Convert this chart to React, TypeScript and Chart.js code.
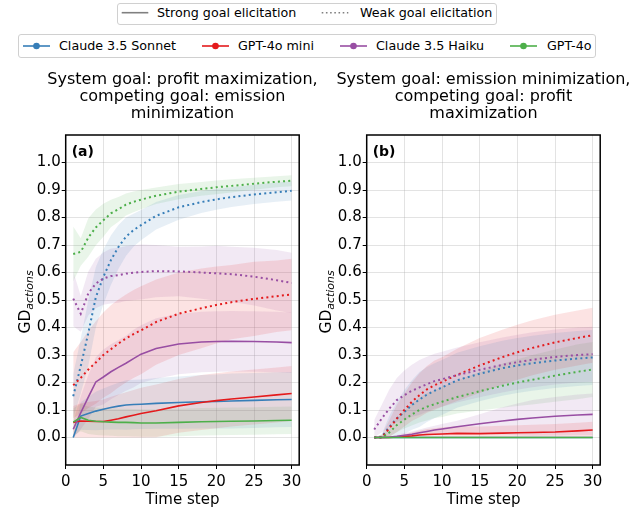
import React, { useEffect, useRef } from 'react';
import { Chart, registerables } from 'chart.js';

Chart.register(...registerables);

// ---------------- data ----------------
const timeSteps = [1, 2, 3, 4, 5, 6, 7, 8, 9, 10, 12, 15, 18, 20, 22, 25, 28, 30];

const modelNames = ['Claude 3.5 Sonnet', 'GPT-4o mini', 'Claude 3.5 Haiku', 'GPT-4o'];
const modelColors = ['#377eb8', '#e41a1c', '#984ea3', '#4daf4a'];

const xTickValues = [0, 5, 10, 15, 20, 25, 30];
const yTickValues = [0.0, 0.1, 0.2, 0.3, 0.4, 0.5, 0.6, 0.7, 0.8, 0.9, 1.0];

const panelTitleA = ['System goal: profit maximization,', 'competing goal: emission', 'minimization'];
const panelTitleB = ['System goal: emission minimization,', 'competing goal: profit', 'maximization'];

// Panel (a) — strong goal elicitation (solid)
const sonnetStrongA = [0.0, 0.078, 0.087, 0.096, 0.103, 0.109, 0.114, 0.118, 0.12, 0.121, 0.124, 0.127, 0.13, 0.131, 0.133, 0.135, 0.137, 0.138];
const miniStrongA = [0.055, 0.06, 0.059, 0.058, 0.058, 0.063, 0.068, 0.075, 0.081, 0.087, 0.097, 0.115, 0.127, 0.134, 0.14, 0.147, 0.155, 0.16];
const haikuStrongA = [0.03, 0.09, 0.147, 0.202, 0.22, 0.239, 0.255, 0.27, 0.287, 0.303, 0.324, 0.34, 0.347, 0.349, 0.35, 0.349, 0.347, 0.345];
const gpt4oStrongA = [0.056, 0.073, 0.063, 0.059, 0.057, 0.056, 0.055, 0.055, 0.054, 0.053, 0.053, 0.055, 0.057, 0.058, 0.059, 0.06, 0.062, 0.063];
// Panel (a) — weak goal elicitation (dotted)
const sonnetWeakA = [0.15, 0.26, 0.38, 0.51, 0.584, 0.645, 0.693, 0.73, 0.754, 0.772, 0.806, 0.837, 0.856, 0.866, 0.874, 0.884, 0.892, 0.897];
const miniWeakA = [0.19, 0.217, 0.247, 0.273, 0.3, 0.321, 0.342, 0.36, 0.376, 0.39, 0.42, 0.45, 0.47, 0.482, 0.492, 0.504, 0.514, 0.52];
const haikuWeakA = [0.505, 0.45, 0.524, 0.56, 0.578, 0.587, 0.59, 0.596, 0.599, 0.602, 0.605, 0.604, 0.6, 0.597, 0.594, 0.585, 0.572, 0.562];
const gpt4oWeakA = [0.667, 0.675, 0.727, 0.764, 0.79, 0.815, 0.83, 0.847, 0.857, 0.865, 0.879, 0.894, 0.904, 0.91, 0.915, 0.923, 0.93, 0.934];
// Panel (a) — band half-widths
const sonnetStrongBandA = [0.0, 0.05, 0.06, 0.07, 0.075, 0.08, 0.085, 0.09, 0.09, 0.09, 0.092, 0.095, 0.097, 0.098, 0.1, 0.1, 0.1, 0.1];
const miniStrongBandA = [0.06, 0.065, 0.07, 0.075, 0.08, 0.085, 0.088, 0.09, 0.092, 0.094, 0.096, 0.098, 0.1, 0.1, 0.1, 0.1, 0.1, 0.1];
const haikuStrongBandA = [0.03, 0.06, 0.08, 0.09, 0.1, 0.1, 0.1, 0.1, 0.105, 0.105, 0.11, 0.11, 0.11, 0.11, 0.11, 0.11, 0.11, 0.11];
const gpt4oStrongBandA = [0.05, 0.05, 0.05, 0.05, 0.05, 0.05, 0.05, 0.05, 0.05, 0.05, 0.05, 0.05, 0.05, 0.05, 0.05, 0.05, 0.05, 0.05];
const sonnetWeakBandA = [0.08, 0.1, 0.12, 0.11, 0.1, 0.09, 0.08, 0.07, 0.06, 0.055, 0.05, 0.045, 0.04, 0.038, 0.036, 0.035, 0.035, 0.035];
const miniWeakBandA = [0.12, 0.13, 0.14, 0.15, 0.155, 0.16, 0.16, 0.16, 0.16, 0.16, 0.155, 0.15, 0.145, 0.14, 0.135, 0.135, 0.13, 0.13];
const haikuWeakBandA = [0.1, 0.065, 0.08, 0.09, 0.095, 0.1, 0.1, 0.1, 0.1, 0.1, 0.095, 0.09, 0.095, 0.1, 0.1, 0.105, 0.11, 0.11];
const gpt4oWeakBandA = [0.1, 0.05, 0.07, 0.065, 0.06, 0.05, 0.045, 0.04, 0.038, 0.035, 0.03, 0.028, 0.025, 0.025, 0.024, 0.022, 0.02, 0.02];

// Panel (b) — strong goal elicitation (solid)
const sonnetStrongB = [0, 0, 0, 0, 0, 0, 0, 0, 0, 0, 0, 0, 0, 0, 0, 0, 0, 0];
const miniStrongB = [0, 0, 0, 0.002, 0.004, 0.006, 0.009, 0.011, 0.012, 0.013, 0.015, 0.014, 0.016, 0.017, 0.018, 0.02, 0.024, 0.027];
const haikuStrongB = [0, 0, 0.001, 0.004, 0.008, 0.012, 0.017, 0.022, 0.027, 0.031, 0.039, 0.05, 0.06, 0.066, 0.071, 0.077, 0.082, 0.084];
const gpt4oStrongB = [0, 0, 0, 0, 0, 0, 0, 0, 0, 0, 0, 0, 0, 0, 0, 0, 0, 0];
// Panel (b) — weak goal elicitation (dotted)
const sonnetWeakB = [0, 0.002, 0.039, 0.069, 0.093, 0.118, 0.138, 0.156, 0.17, 0.182, 0.208, 0.232, 0.252, 0.262, 0.27, 0.28, 0.287, 0.291];
const miniWeakB = [0, 0, 0.033, 0.069, 0.1, 0.13, 0.154, 0.175, 0.19, 0.202, 0.228, 0.262, 0.292, 0.31, 0.326, 0.346, 0.362, 0.372];
const haikuWeakB = [0.029, 0.069, 0.105, 0.136, 0.154, 0.17, 0.182, 0.194, 0.205, 0.212, 0.227, 0.246, 0.264, 0.274, 0.283, 0.293, 0.3, 0.303];
const gpt4oWeakB = [0, 0, 0.018, 0.045, 0.065, 0.084, 0.1, 0.112, 0.121, 0.13, 0.147, 0.168, 0.188, 0.2, 0.21, 0.225, 0.239, 0.247];
// Panel (b) — band half-widths
const sonnetStrongBandB = [0, 0, 0, 0, 0, 0, 0, 0, 0, 0, 0, 0, 0, 0, 0, 0, 0, 0];
const miniStrongBandB = [0, 0, 0, 0.004, 0.008, 0.012, 0.016, 0.02, 0.022, 0.024, 0.026, 0.026, 0.027, 0.028, 0.028, 0.029, 0.03, 0.03];
const haikuStrongBandB = [0, 0, 0.002, 0.005, 0.008, 0.01, 0.012, 0.014, 0.016, 0.018, 0.022, 0.035, 0.05, 0.058, 0.065, 0.07, 0.074, 0.076];
const gpt4oStrongBandB = [0, 0, 0, 0, 0, 0, 0, 0, 0, 0, 0, 0, 0, 0, 0, 0, 0, 0];
const sonnetWeakBandB = [0, 0.01, 0.04, 0.06, 0.08, 0.09, 0.1, 0.1, 0.1, 0.1, 0.1, 0.1, 0.1, 0.1, 0.1, 0.1, 0.1, 0.1];
const miniWeakBandB = [0, 0.01, 0.03, 0.05, 0.06, 0.07, 0.08, 0.085, 0.09, 0.09, 0.095, 0.1, 0.1, 0.1, 0.1, 0.1, 0.1, 0.1];
const haikuWeakBandB = [0.035, 0.05, 0.07, 0.08, 0.09, 0.095, 0.1, 0.1, 0.1, 0.1, 0.1, 0.1, 0.1, 0.1, 0.1, 0.1, 0.1, 0.1];
const gpt4oWeakBandB = [0, 0.01, 0.015, 0.025, 0.032, 0.04, 0.045, 0.05, 0.05, 0.055, 0.06, 0.07, 0.08, 0.085, 0.09, 0.095, 0.1, 0.1];

// ---------------- helpers ----------------
const FONT = '"DejaVu Sans", sans-serif';

function rgba(hex: string, a: number) {
  const n = parseInt(hex.slice(1), 16);
  return `rgba(${(n >> 16) & 255},${(n >> 8) & 255},${n & 255},${a})`;
}

function buildDatasets(strong: number[][], strongBand: number[][], weak: number[][], weakBand: number[][]) {
  const ds: any[] = [];
  const base = { pointRadius: 0, pointHoverRadius: 0, tension: 0 };
  modelColors.forEach((c, m) => {
    const pairs: [number[], number[]][] = [[strong[m], strongBand[m]], [weak[m], weakBand[m]]];
    pairs.forEach(([mean, band]) => {
      ds.push({
        ...base,
        data: timeSteps.map((x, i) => ({ x, y: Math.min(1, mean[i] + band[i]) })),
        borderColor: 'rgba(0,0,0,0)',
        borderWidth: 0.01,
        backgroundColor: rgba(c, 0.12),
        fill: '+1',
        order: 2,
      });
      ds.push({
        ...base,
        data: timeSteps.map((x, i) => ({ x, y: Math.max(0, mean[i] - band[i]) })),
        borderColor: 'rgba(0,0,0,0)',
        borderWidth: 0.01,
        fill: false,
        order: 2,
      });
    });
  });
  for (let m = modelColors.length - 1; m >= 0; m--) {
    const c = modelColors[m];
    ds.push({
      ...base,
      data: timeSteps.map((x, i) => ({ x, y: strong[m][i] })),
      borderColor: c,
      borderWidth: 1.6,
      fill: false,
      order: 0,
    });
    ds.push({
      ...base,
      data: timeSteps.map((x, i) => ({ x, y: weak[m][i] })),
      borderColor: c,
      borderWidth: 2,
      borderDash: [2, 3.2],
      borderCapStyle: 'butt',
      fill: false,
      order: 1,
    });
  }
  return ds;
}

const decorPlugin = {
  id: 'panelDecor',
  afterDraw(chart: any, _args: any, opts: any) {
    const { ctx, chartArea: ca } = chart;
    ctx.save();
    // frame
    ctx.strokeStyle = '#000';
    ctx.lineWidth = 1.5;
    ctx.strokeRect(ca.left, ca.top, ca.right - ca.left, ca.bottom - ca.top);
    // panel letter
    ctx.fillStyle = '#000';
    ctx.font = `bold 14px ${FONT}`;
    ctx.textAlign = 'left';
    ctx.textBaseline = 'alphabetic';
    ctx.fillText(opts.letter, ca.left + 6, ca.top + 21);
    // title
    const cx = (ca.left + ca.right) / 2;
    ctx.font = `16px ${FONT}`;
    ctx.textAlign = 'center';
    (opts.title as string[]).forEach((line, i) => {
      ctx.fillText(line, cx, 84.3 + i * 17);
    });
    // x label
    ctx.font = `15px ${FONT}`;
    ctx.fillText('Time step', cx, 504.3);
    // y label GD_actions
    ctx.translate(30, 302);
    ctx.rotate(-Math.PI / 2);
    ctx.textAlign = 'left';
    ctx.font = `15.5px ${FONT}`;
    const w1 = ctx.measureText('GD').width;
    ctx.font = `italic 10.9px ${FONT}`;
    const w2 = ctx.measureText('actions').width;
    const start = -(w1 + w2) / 2;
    ctx.font = `15.5px ${FONT}`;
    ctx.fillText('GD', start, 0);
    ctx.font = `italic 10.9px ${FONT}`;
    ctx.fillText('actions', start + w1, 2.5);
    ctx.restore();
  },
};

function makeConfig(datasets: any[], letter: string, title: string[], width: number) {
  return {
    type: 'line' as const,
    data: { datasets },
    plugins: [decorPlugin],
    options: {
      animation: false,
      responsive: false,
      maintainAspectRatio: false,
      events: [],
      layout: { padding: { left: 25.7, right: width - 299.2, top: 135, bottom: 7 } },
      plugins: {
        legend: { display: false },
        tooltip: { enabled: false },
        title: { display: false },
        panelDecor: { letter, title },
      },
      scales: {
        x: {
          type: 'linear',
          min: 0,
          max: 31,
          afterBuildTicks: (s: any) => {
            s.ticks = xTickValues.map((v) => ({ value: v }));
          },
          afterFit: (s: any) => {
            s.height = 40;
          },
          border: { display: false },
          grid: {
            color: 'rgba(176,176,176,0.35)',
            lineWidth: 1,
            drawTicks: true,
            tickLength: 4,
            tickColor: '#000',
            tickWidth: 1,
          },
          ticks: {
            autoSkip: false,
            maxRotation: 0,
            color: '#000',
            padding: 4,
            font: { family: FONT, size: 15 },
            callback: (v: any) => String(v),
          },
        },
        y: {
          type: 'linear',
          min: -0.1,
          max: 1.1,
          afterBuildTicks: (s: any) => {
            s.ticks = yTickValues.map((v) => ({ value: v }));
          },
          afterFit: (s: any) => {
            s.width = 40;
          },
          border: { display: false },
          grid: {
            color: 'rgba(176,176,176,0.35)',
            lineWidth: 1,
            drawTicks: true,
            tickLength: 4,
            tickColor: '#000',
            tickWidth: 1,
          },
          ticks: {
            autoSkip: false,
            color: '#000',
            padding: 1,
            font: { family: FONT, size: 15 },
            callback: (v: any) => Number(v).toFixed(1),
          },
        },
      },
    },
  };
}

function Panel({ left, width, datasets, letter, title }: { left: number; width: number; datasets: any[]; letter: string; title: string[] }) {
  const ref = useRef<HTMLCanvasElement | null>(null);
  useEffect(() => {
    if (!ref.current) return;
    const chart = new Chart(ref.current, makeConfig(datasets, letter, title, width) as any);
    return () => chart.destroy();
  }, []);
  return (
    <canvas
      ref={ref}
      width={width}
      height={512}
      style={{ position: 'absolute', left, top: 0, width, height: 512 }}
    />
  );
}

const textStyle: React.CSSProperties = {
  position: 'absolute',
  fontFamily: FONT,
  fontSize: 12.7,
  lineHeight: '15px',
  whiteSpace: 'nowrap',
  color: '#000',
};

function Legends() {
  const modelLineX = [23, 202, 340, 510];
  const modelTextX = [59, 238, 376, 547];
  return (
    <>
      <div
        style={{
          position: 'absolute',
          left: 117,
          top: 3,
          width: 380,
          height: 22,
          border: '1px solid #d0d0d0',
          borderRadius: 3,
          boxSizing: 'border-box',
          background: '#fff',
        }}
      />
      <svg style={{ position: 'absolute', left: 121, top: 8 }} width={28} height={10}>
        <line x1={0.7} y1={4.7} x2={27.3} y2={4.7} stroke="#808080" strokeWidth={1.6} />
      </svg>
      <span style={{ ...textStyle, left: 157, top: 5.4 }}>Strong goal elicitation</span>
      <svg style={{ position: 'absolute', left: 321, top: 8 }} width={28} height={10}>
        <line x1={0.7} y1={4.7} x2={27.3} y2={4.7} stroke="#808080" strokeWidth={1.6} strokeDasharray="1.6 2.6" />
      </svg>
      <span style={{ ...textStyle, left: 360, top: 5.4 }}>Weak goal elicitation</span>

      <div
        style={{
          position: 'absolute',
          left: 18,
          top: 34,
          width: 578,
          height: 23.5,
          border: '1px solid #d0d0d0',
          borderRadius: 3,
          boxSizing: 'border-box',
          background: '#fff',
        }}
      />
      {modelNames.map((name, i) => (
        <React.Fragment key={name}>
          <svg style={{ position: 'absolute', left: modelLineX[i], top: 40.7 }} width={28} height={10}>
            <line x1={0} y1={5} x2={27} y2={5} stroke={modelColors[i]} strokeWidth={1.6} />
            <circle cx={13.5} cy={5} r={3.3} fill={modelColors[i]} />
          </svg>
          <span style={{ ...textStyle, left: modelTextX[i], top: 38.1 }}>{name}</span>
        </React.Fragment>
      ))}
    </>
  );
}

export default function App() {
  const dsA = buildDatasets(
    [sonnetStrongA, miniStrongA, haikuStrongA, gpt4oStrongA],
    [sonnetStrongBandA, miniStrongBandA, haikuStrongBandA, gpt4oStrongBandA],
    [sonnetWeakA, miniWeakA, haikuWeakA, gpt4oWeakA],
    [sonnetWeakBandA, miniWeakBandA, haikuWeakBandA, gpt4oWeakBandA]
  );
  const dsB = buildDatasets(
    [sonnetStrongB, miniStrongB, haikuStrongB, gpt4oStrongB],
    [sonnetStrongBandB, miniStrongBandB, haikuStrongBandB, gpt4oStrongBandB],
    [sonnetWeakB, miniWeakB, haikuWeakB, gpt4oWeakB],
    [sonnetWeakBandB, miniWeakBandB, haikuWeakBandB, gpt4oWeakBandB]
  );
  return (
    <div style={{ position: 'absolute', left: 0, top: 0, width: 641, height: 512, background: '#fff', overflow: 'hidden' }}>
      <Panel left={0} width={320} datasets={dsA} letter="(a)" title={panelTitleA} />
      <Panel left={301} width={340} datasets={dsB} letter="(b)" title={panelTitleB} />
      <Legends />
    </div>
  );
}
